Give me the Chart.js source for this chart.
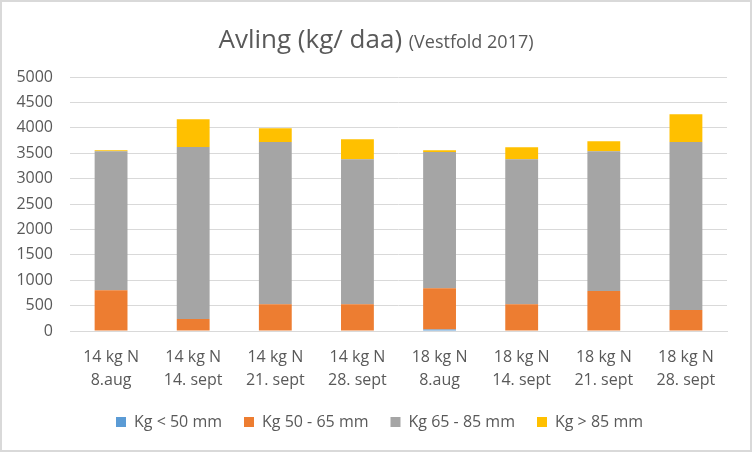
<!DOCTYPE html>
<html>
<head>
<meta charset="utf-8">
<script src="https://cdn.jsdelivr.net/npm/chart.js@4"></script>
<style>
  html, body { margin: 0; padding: 0; background: #fff; }
  #wrap { width: 752px; height: 452px; position: relative; }
</style>
</head>
<body>
<div id="wrap"><canvas id="grafico" width="752" height="452"></canvas></div>
<script>
// Data
const kategorier = [
  ["14 kg N", "8.aug"], ["14 kg N", "14. sept"], ["14 kg N", "21. sept"], ["14 kg N", "28. sept"],
  ["18 kg N", "8.aug"], ["18 kg N", "14. sept"], ["18 kg N", "21. sept"], ["18 kg N", "28. sept"]
];
const under50 = [0, 0, 0, 0, 30, 0, 0, 0];
const fra50til65 = [800, 236, 525, 525, 810, 525, 787, 413];
const fra65til85 = [2740, 3386, 3195, 2855, 2684, 2855, 2750, 3307];
const over85 = [20, 545, 270, 394, 33, 236, 197, 546];
const serieNavn = ["Kg < 50 mm", "Kg 50 - 65 mm", "Kg 65 - 85 mm", "Kg > 85 mm"];
const yTicks = [0, 500, 1000, 1500, 2000, 2500, 3000, 3500, 4000, 4500, 5000];

const tekstFarge = "#595959";
const font = "'Open Sans', 'DejaVu Sans', sans-serif";

// tittel med to skriftstorrelser + ramme
const tittelPlugin = {
  id: "tittel",
  afterLayout(chart) {
    // flytt legenden litt mot hoyre, som i originalen
    const l = chart.legend;
    if (l) { l.left += 16; l.right += 16; }
  },
  afterDraw(chart) {
    const ctx = chart.ctx;
    ctx.save();
    const del1 = "Avling (kg/ daa) ";
    const del2 = "(Vestfold 2017)";
    ctx.font = "26px " + font;
    const w1 = ctx.measureText(del1).width;
    ctx.font = "18px " + font;
    const w2 = ctx.measureText(del2).width;
    let x = 376 - (w1 + w2) / 2;
    ctx.fillStyle = tekstFarge;
    ctx.textBaseline = "alphabetic";
    ctx.textAlign = "left";
    ctx.font = "26px " + font;
    ctx.fillText(del1, x, 48);
    ctx.font = "18px " + font;
    ctx.fillText(del2, x + w1, 48);
    ctx.strokeStyle = "#d9d9d9";
    ctx.lineWidth = 2;
    ctx.strokeRect(1, 1, 750, 450);
    ctx.restore();
  }
};

const ctx = document.getElementById("grafico").getContext("2d");
new Chart(ctx, {
  type: "bar",
  data: {
    labels: kategorier,
    datasets: [
      { label: serieNavn[0], data: under50, backgroundColor: "#5B9BD5" },
      { label: serieNavn[1], data: fra50til65, backgroundColor: "#ED7D31" },
      { label: serieNavn[2], data: fra65til85, backgroundColor: "#A5A5A5" },
      { label: serieNavn[3], data: over85, backgroundColor: "#FFC000" },
    ],
  },
  options: {
    responsive: false,
    animation: false,
    layout: { padding: { top: 77, left: 0, right: 25, bottom: 12 } },
    datasets: { bar: { categoryPercentage: 1, barPercentage: 0.4 } },
    scales: {
      x: {
        stacked: true,
        grid: { display: false, drawTicks: false },
        border: { color: "#d9d9d9" },
        ticks: { color: tekstFarge, font: { family: font, size: 16, lineHeight: 1.45 }, padding: 15, maxRotation: 0 },
        afterFit: (s) => { s.height = 61; },
      },
      y: {
        stacked: true,
        min: 0,
        max: 5000,
        afterBuildTicks: (s) => { s.ticks = yTicks.map((v) => ({ value: v })); },
        grid: { color: "#d9d9d9", lineWidth: 1, drawTicks: false },
        border: { display: false },
        ticks: { color: tekstFarge, font: { family: font, size: 16 }, padding: 17, callback: (v) => String(v) },
        afterFit: (s) => { s.width = 70; },
      },
    },
    plugins: {
      legend: {
        position: "bottom",
        labels: {
          color: tekstFarge,
          font: { family: font, size: 16 },
          boxWidth: 10,
          boxHeight: 10,
          padding: 22,
        },
      },
      tooltip: { enabled: false },
    },
  },
  plugins: [tittelPlugin],
});
</script>
</body>
</html>
